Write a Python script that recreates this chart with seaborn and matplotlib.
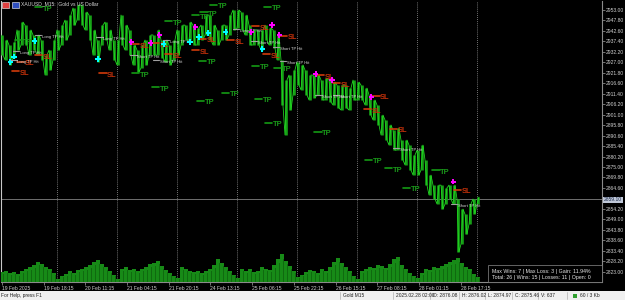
import numpy as np
import pandas as pd
import matplotlib
matplotlib.use("Agg")
import matplotlib.pyplot as plt
from matplotlib.patches import Rectangle
import seaborn as sns

sns.set_theme(style="dark")
plt.rcParams["font.family"] = ["Liberation Sans", "DejaVu Sans"]

# ---------------- data ----------------
symbol_title = "XAUUSD_M15:  Gold vs US Dollar"
date_labels = ["19 Feb 2025", "19 Feb 18:15", "20 Feb 11:15", "21 Feb 04:15", "21 Feb 20:15",
               "24 Feb 13:15", "25 Feb 06:15", "25 Feb 22:15", "26 Feb 15:15", "27 Feb 08:15",
               "28 Feb 01:15", "28 Feb 17:15"]
price_ticks = [2953.00 - 5.2 * i for i in range(26)]
current_price = 2859.10

# price sampled every ~6 M15 bars (high / low of each block)
highs = [2940.6, 2938.1, 2935.6, 2937.1, 2943.1, 2947.0, 2945.5, 2943.1, 2940.6, 2940.6,
         2938.1, 2930.6, 2933.1, 2938.1, 2943.1, 2945.5, 2948.0, 2950.5, 2954.0, 2955.5,
         2955.5, 2952.0, 2950.5, 2943.1, 2938.1, 2945.5, 2947.0, 2943.1, 2938.1, 2938.1,
         2950.5, 2945.5, 2943.1, 2935.6, 2933.1, 2935.6, 2938.1, 2940.6, 2940.6, 2943.1,
         2938.1, 2938.1, 2935.6, 2938.1, 2943.1, 2945.5, 2945.5, 2947.0, 2945.5, 2944.1,
         2945.5, 2950.5, 2950.5, 2945.5, 2943.1, 2945.5, 2945.5, 2950.5, 2953.0, 2953.0,
         2952.0, 2950.5, 2945.5, 2943.1, 2943.1, 2943.1, 2945.5, 2944.1, 2943.1, 2940.6,
         2928.2, 2918.2, 2920.7, 2923.2, 2927.2, 2925.7, 2923.2, 2920.7, 2920.7, 2920.7,
         2918.2, 2919.2, 2918.2, 2917.2, 2915.7, 2915.7, 2915.7, 2914.2, 2918.2, 2917.2,
         2915.7, 2914.2, 2910.8, 2908.3, 2905.8, 2900.8, 2898.4, 2895.9, 2893.4, 2894.4,
         2888.4, 2888.4, 2885.9, 2880.9, 2883.4, 2885.9, 2878.5, 2871.0, 2866.0, 2866.0,
         2866.0, 2864.6, 2866.0, 2866.0, 2859.1, 2854.1, 2851.6, 2856.6, 2859.1, 2860.1]
lows = [2930.6, 2928.2, 2925.7, 2929.2, 2933.1, 2935.6, 2935.6, 2930.6, 2933.1, 2930.6,
        2928.2, 2920.7, 2923.2, 2928.2, 2933.1, 2935.6, 2938.1, 2940.6, 2945.5, 2948.0,
        2945.5, 2943.1, 2938.1, 2930.6, 2927.2, 2935.6, 2938.1, 2933.1, 2928.2, 2925.7,
        2935.6, 2933.1, 2930.6, 2925.7, 2922.2, 2924.2, 2925.7, 2930.6, 2930.6, 2930.6,
        2929.2, 2927.2, 2925.7, 2928.2, 2930.6, 2935.6, 2938.1, 2938.1, 2935.6, 2935.6,
        2938.1, 2940.6, 2938.1, 2935.6, 2935.6, 2938.1, 2938.1, 2940.6, 2943.1, 2944.1,
        2943.1, 2940.6, 2935.6, 2935.6, 2935.6, 2933.1, 2938.1, 2935.6, 2934.1, 2928.2,
        2905.8, 2890.9, 2903.3, 2910.8, 2915.7, 2913.3, 2910.8, 2908.3, 2909.3, 2910.8,
        2908.3, 2908.3, 2907.3, 2905.8, 2904.3, 2903.3, 2904.3, 2903.3, 2908.3, 2908.3,
        2908.3, 2905.8, 2900.8, 2898.4, 2895.9, 2890.9, 2888.4, 2885.9, 2883.4, 2883.4,
        2878.5, 2876.0, 2873.5, 2871.0, 2871.0, 2873.5, 2866.0, 2861.1, 2859.1, 2856.6,
        2854.1, 2856.6, 2859.1, 2856.6, 2832.8, 2836.7, 2841.6, 2846.6, 2851.6, 2856.6]
volumes = [900, 1000, 800, 900, 700, 1000, 1200, 1400, 1600, 1900,
           1700, 1400, 1200, 800, 200, 500, 700, 1000, 800, 1100,
           1200, 1400, 1600, 1900, 2100, 1700, 1400, 1000, 600, 200,
           1200, 1400, 1100, 1200, 1000, 1200, 1400, 1700, 1800, 2000,
           1500, 1100, 800, 500, 300, 1400, 1200, 1000, 900, 1000,
           800, 1000, 1200, 1600, 2200, 1800, 1400, 1000, 600, 300,
           1200, 1000, 1200, 900, 1000, 1400, 1200, 1100, 1600, 2200,
           2700, 2000, 1500, 1000, 400, 600, 900, 1100, 1000, 800,
           1200, 1000, 1400, 1900, 2300, 1800, 1400, 1000, 500, 200,
           1000, 1200, 1400, 1300, 1600, 1500, 1300, 1700, 2200, 2400,
           1600, 1200, 800, 500, 300, 800, 1200, 1100, 1400, 1300,
           1500, 1700, 1900, 2100, 2300, 1800, 1400, 1200, 700, 400]

# trade marks (bar index, price)
tp_bar = [63, 33, 212, 243, 263, 304, 315, 332, 317, 415, 396, 430,
          312, 350, 401, 416, 492, 570, 600, 628, 673]
tp_price = [2954.6, 2938.3, 2921.9, 2914.9, 2947.7, 2950.7, 2927.9, 2955.7, 2952.2, 2954.7, 2925.4, 2924.4,
            2908.0, 2912.0, 2909.0, 2897.1, 2892.6, 2878.7, 2874.7, 2864.8, 2873.7]
sl_bar = [63, 35, 28, 162, 212, 243, 263, 304, 315, 358, 396, 413, 439, 496, 521, 581, 608, 706, 568]
sl_price = [2930.8, 2927.4, 2922.9, 2921.9, 2936.3, 2936.8, 2931.3, 2933.3, 2938.8, 2938.3, 2945.2,
            2931.3, 2940.3, 2920.9, 2916.9, 2910.5, 2894.1, 2863.8, 2904.0]
long_bar = [14, 20, 52, 149, 250, 290, 304, 318, 345, 401]
long_price = [2927.2, 2929.7, 2937.6, 2928.7, 2936.1, 2937.1, 2939.6, 2941.6, 2942.1, 2933.6]
short_bar = [200, 230, 243, 298, 384, 416, 427, 483, 508, 568, 694]
short_price = [2937.1, 2936.6, 2940.6, 2944.6, 2942.1, 2945.5, 2940.6, 2921.2, 2918.2, 2909.8, 2867.6]
hit_text = ["Long TP Hit", "Long TP Hit", "Long TP Hit", "Long TP Hit", "Long TP Hit", "Long TP Hit",
            "Short TP Hit", "Short TP Hit", "Short TP Hit", "Short TP Hit", "Short TP Hit",
            "Short TP Hit", "Short TP Hit", "Short TP Hit", "Short TP Hit"]
hit_bar = [29, 25, 63, 157, 259, 367, 209, 244, 394, 428, 439, 493, 520, 612, 701]
hit_price = [2931.6, 2927.2, 2939.6, 2938.6, 2937.1, 2942.6, 2929.7, 2927.2, 2936.6, 2933.6,
             2926.7, 2909.8, 2909.8, 2883.4, 2855.6]

stats_line1 = "Max Wins: 7 | Max Loss: 3 | Gain: 11.94%"
stats_line2 = "Total: 26 | Wins: 15 | Losses: 11 | Open: 0"
status_items = [("For Help, press F1", 1), ("Gold M15", 343), ("2025.02.28 02:00", 396),
                ("O: 2876.08", 433), ("H: 2876.02", 462), ("L: 2874.97", 488),
                ("C: 2875.46", 515), ("V: 637", 541), ("60 / 3 Kb", 580)]

# ---------------- layout helpers ----------------
W, H = 625, 300
PXB = 0.6516          # pixels per M15 bar
STEP = 4 / PXB        # bars per sample block

def fx(x):
    return x / W

def fy(y):
    return 1 - y / H

fig = plt.figure(figsize=(6.25, 3), dpi=100, facecolor="black")
ax = fig.add_axes([fx(1), fy(281.5), fx(601), 280.5 / H])
ax.set_facecolor("black")

y_top = 2953.0 + 9 * 0.4968
y_bot = 2953.0 - 271.5 * 0.4968
ax.set_ylim(y_bot, y_top)
ax.set_xlim(0, 601 / PXB)

# volume panel (same x)
axv = ax.twinx()
axv.set_ylim(0, 28000)
axv.set_yticks([])
vb = 1.5 + np.arange(len(volumes)) * STEP
axv.bar(vb, volumes, width=STEP * 0.8, color="#178a17", linewidth=0, zorder=1)
axv.bar(vb + STEP * 0.5, np.array(volumes) * 0.85, width=STEP * 0.25, color="#0f6a0f",
        linewidth=0, zorder=1)
for s in axv.spines.values():
    s.set_visible(False)

# price
n = min(len(highs), len(lows))
pb = 1.5 + np.arange(n) * STEP
ax.vlines(pb, lows[:n], highs[:n], colors="#17a017", linewidth=1.9, zorder=3)
zx, zy = [], []
for i in range(n):
    zx += [pb[i] - 1.5, pb[i] + 1.5]
    zy += ([highs[i], lows[i]] if i % 2 == 0 else [lows[i], highs[i]])
dfz = pd.DataFrame({"bar": zx, "price": zy})
sns.lineplot(data=dfz, x="bar", y="price", sort=False, ax=ax, color="#22dd22",
             linewidth=0.55, zorder=4, estimator=None)

# period separators
for k in range(8):
    ax.axvline(86.4 + 92.08 * k, color="#9a9a9a", linestyle=(0, (1, 1.5)), linewidth=0.6, zorder=0)
# current price line
ax.axhline(current_price, color="#808080", linewidth=0.6, zorder=2)

# trade marks
fs_small = 3.0
for b, p in zip(tp_bar, tp_price):
    ax.plot([b - 11, b], [p, p], color="#149a14", linewidth=1.2, zorder=5)
    ax.text(b + 1, p - 1.2, "TP", color="#1a9a1a", fontsize=5.4, fontweight="bold",
            va="center", ha="left", zorder=5)
for b, p in zip(sl_bar, sl_price):
    ax.plot([b - 11, b], [p, p], color="#d03a0a", linewidth=1.2, zorder=5)
    ax.text(b + 1, p - 1.2, "SL", color="#c0300a", fontsize=5.4, fontweight="bold",
            va="center", ha="left", zorder=5)
for t, b, p in zip(hit_text, hit_bar, hit_price):
    ax.plot([b - 11, b - 1], [p + 0.8, p + 0.8], color="#a0a0a0", linewidth=0.8, zorder=5)
    ax.text(b, p, t, color="#d8d8d8", fontsize=fs_small, va="center", ha="left", zorder=6)
dfl = pd.DataFrame({"bar": long_bar, "price": long_price})
dfs = pd.DataFrame({"bar": short_bar, "price": short_price})
sns.scatterplot(data=dfl, x="bar", y="price", marker="P", s=14, color="#00ffff",
                edgecolor="none", ax=ax, zorder=7)
sns.scatterplot(data=dfs, x="bar", y="price", marker="P", s=14, color="#ff00ff",
                edgecolor="none", ax=ax, zorder=7)

# axes styling
ax.set_xlabel("")
ax.set_ylabel("")
ax.grid(False)
ax.yaxis.tick_right()
ax.set_yticks(price_ticks)
ax.set_yticklabels(["" if abs(v - current_price) < 1.0 else f"{v:.2f}" for v in price_ticks])
ax.tick_params(axis="y", colors="#a0a0a0", labelcolor="#d0d0d0", labelsize=3.6,
               length=2, width=0.5, pad=0.8, direction="out", right=True, left=False)
xt = [1.5 + 64 * k for k in range(len(date_labels))]
ax.set_xticks(xt)
ax.set_xticklabels(date_labels, ha="left")
ax.tick_params(axis="x", colors="#a0a0a0", labelcolor="#d0d0d0", labelsize=3.6,
               length=2, width=0.5, pad=1.5, direction="out", bottom=True)
ax.spines["top"].set_visible(False)
ax.spines["right"].set_color("#8a8a8a")
ax.spines["bottom"].set_color("#8a8a8a")
ax.spines["left"].set_color("#c8c8c8")
for s in ["right", "bottom", "left"]:
    ax.spines[s].set_linewidth(0.8)

# current price label
fig.patches.append(Rectangle((fx(603), fy(202.5)), fx(19.5), 6 / H, transform=fig.transFigure,
                             facecolor="#c0c8d8", edgecolor="none", zorder=10))
fig.text(fx(604), fy(199.3), f"{current_price:.2f}", color="#1a2a4a", fontsize=3.6,
         va="center", ha="left", zorder=11)

# title and icons
fig.patches.append(Rectangle((fx(2), fy(8)), fx(7), 6 / H, transform=fig.transFigure,
                             facecolor="#e04040", edgecolor="#ffffff", linewidth=0.4, zorder=10))
fig.patches.append(Rectangle((fx(12), fy(8)), fx(7), 6 / H, transform=fig.transFigure,
                             facecolor="#3050c0", edgecolor="#ffffff", linewidth=0.4, zorder=10))
fig.text(fx(21), fy(4.0), symbol_title, color="#d8d8d8", fontsize=3.6, va="center", ha="left", zorder=11)

# stats box
fig.patches.append(Rectangle((fx(488), fy(281.5)), fx(114), 16.5 / H, transform=fig.transFigure,
                             facecolor="black", edgecolor="#8a8a8a", linewidth=0.5, zorder=10))
fig.text(fx(492), fy(271.5), stats_line1, color="#e8e8e8", fontsize=3.75, va="center", ha="left", zorder=11)
fig.text(fx(492), fy(277.5), stats_line2, color="#e8e8e8", fontsize=3.75, va="center", ha="left", zorder=11)

# status bar
fig.patches.append(Rectangle((0, 0), 1, 9.5 / H, transform=fig.transFigure,
                             facecolor="#f0f0f0", edgecolor="none", zorder=10))
for t, x in status_items:
    fig.text(fx(x), fy(295.5), t, color="#202020", fontsize=3.5, va="center", ha="left", zorder=11)
for x in [340, 393, 430, 459, 485, 512, 538, 567]:
    fig.lines.append(plt.Line2D([fx(x), fx(x)], [fy(299), fy(291.5)], transform=fig.transFigure,
                                color="#b0b0b0", linewidth=0.5, zorder=11))
fig.patches.append(Rectangle((fx(573), fy(297.5)), fx(4), 4 / H, transform=fig.transFigure,
                             facecolor="#30a030", edgecolor="none", zorder=11))

fig.savefig("out.png", dpi=100, facecolor="black")
